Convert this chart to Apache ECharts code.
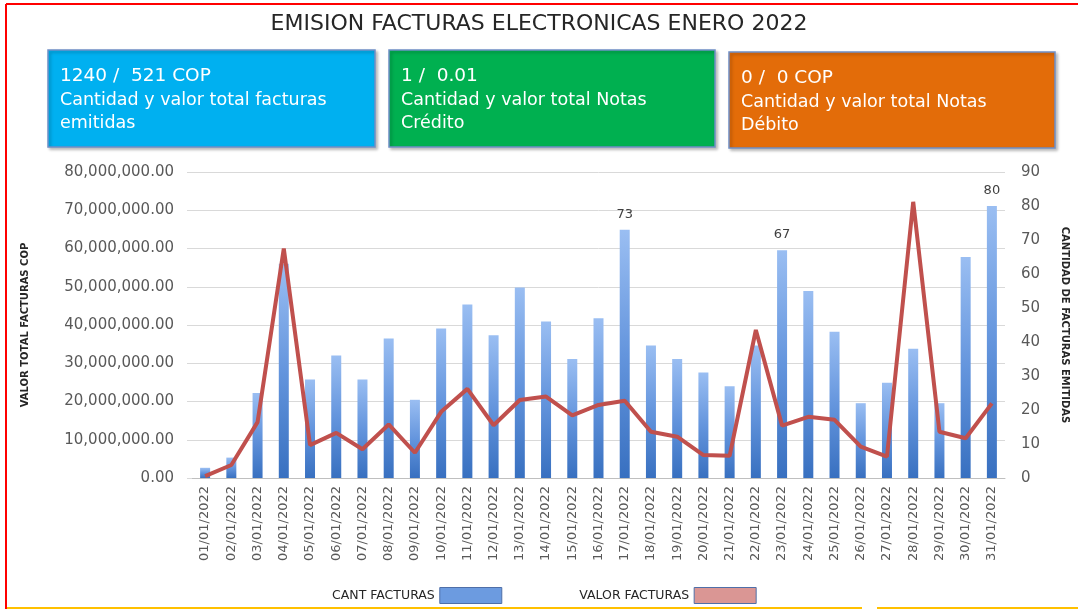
<!DOCTYPE html>
<html>
<head>
<meta charset="utf-8">
<script src="https://cdn.jsdelivr.net/npm/echarts@6/dist/echarts.min.js"></script>
<style>
  html, body { margin: 0; padding: 0; background: #fff; }
  #chart { width: 1078px; height: 609px; }
</style>
</head>
<body>
<div id="chart"></div>
<script>
// fechas del mes
const dias = ['01/01/2022', '02/01/2022', '03/01/2022', '04/01/2022', '05/01/2022', '06/01/2022', '07/01/2022', '08/01/2022',
  '09/01/2022', '10/01/2022', '11/01/2022', '12/01/2022', '13/01/2022', '14/01/2022', '15/01/2022', '16/01/2022',
  '17/01/2022', '18/01/2022', '19/01/2022', '20/01/2022', '21/01/2022', '22/01/2022', '23/01/2022', '24/01/2022',
  '25/01/2022', '26/01/2022', '27/01/2022', '28/01/2022', '29/01/2022', '30/01/2022', '31/01/2022']

// cantidad de facturas (eje derecho)
const cantFacturas = [3, 6, 25, 63, 29, 36, 29, 41, 23, 44, 51, 42, 56, 46, 35, 47,
  73, 39, 35, 31, 27, 39, 67, 55, 43, 22, 28, 38, 22, 65, 80]

// valor facturas COP (eje izquierdo)
const valorFacturas = [500000, 3400000, 14600000, 60000000, 8600000, 11800000, 7500000, 14000000,
  6600000, 17300000, 23300000, 13800000, 20400000, 21300000, 16400000, 19100000,
  20200000, 12100000, 10800000, 6000000, 5800000, 38700000, 13700000, 16000000,
  15200000, 8200000, 5600000, 72200000, 12100000, 10400000, 19500000]

// etiquetas visibles sobre barras
const etiquetasDias = ['17/01/2022', '23/01/2022', '31/01/2022']

// tarjetas de resumen
const tarjetas = [
  { x: 48, y: 50, w: 327, h: 97, color: '#00B0F0', l1: '1240 /  521 COP', l2: 'Cantidad y valor total facturas', l3: 'emitidas' },
  { x: 389, y: 50, w: 326, h: 97, color: '#00B050', l1: '1 /  0.01', l2: 'Cantidad y valor total Notas', l3: 'Crédito' },
  { x: 729, y: 52, w: 326, h: 96, color: '#E36C09', l1: '0 /  0 COP', l2: 'Cantidad y valor total Notas', l3: 'Débito' }
]

const fuente = '"DejaVu Sans"'

let graficos = []
// bordes del recuadro
graficos.push({ type: 'line', shape: { x1: 6, y1: 4, x2: 1078, y2: 4 }, style: { stroke: '#FF0000', lineWidth: 2 } })
graficos.push({ type: 'line', shape: { x1: 6, y1: 4, x2: 6, y2: 609 }, style: { stroke: '#FF0000', lineWidth: 2 } })
graficos.push({ type: 'line', shape: { x1: 7, y1: 608, x2: 862, y2: 608 }, style: { stroke: '#FFC000', lineWidth: 2 } })
graficos.push({ type: 'line', shape: { x1: 877, y1: 608, x2: 1078, y2: 608 }, style: { stroke: '#FFC000', lineWidth: 2 } })

tarjetas.forEach(function (t) {
  graficos.push({
    type: 'rect',
    shape: { x: t.x, y: t.y, width: t.w, height: t.h },
    style: {
      fill: t.color, stroke: '#6F8FC6', lineWidth: 1.5,
      shadowBlur: 3, shadowOffsetX: 2, shadowOffsetY: 2, shadowColor: 'rgba(0,0,0,0.25)'
    }
  })
  graficos.push({
    type: 'text', x: t.x + 12, y: t.y + 26,
    style: { text: t.l1, fill: '#fff', font: '18.5px ' + fuente, textVerticalAlign: 'middle' }
  })
  graficos.push({
    type: 'text', x: t.x + 12, y: t.y + 50,
    style: { text: t.l2, fill: '#fff', font: '17.5px ' + fuente, textVerticalAlign: 'middle' }
  })
  graficos.push({
    type: 'text', x: t.x + 12, y: t.y + 73,
    style: { text: t.l3, fill: '#fff', font: '17.5px ' + fuente, textVerticalAlign: 'middle' }
  })
})

const barras = cantFacturas.map(function (v, i) {
  if (etiquetasDias.indexOf(dias[i]) >= 0) {
    return { value: v, label: { show: true } }
  }
  return v
})

const chart = echarts.init(document.getElementById('chart'))

let options = {
  backgroundColor: '#fff',
  animation: false,
  textStyle: { fontFamily: fuente },
  title: {
    text: 'EMISION FACTURAS ELECTRONICAS ENERO 2022',
    left: 'center',
    top: 8,
    textStyle: { fontFamily: fuente, fontSize: 22, fontWeight: 'normal', color: '#262626' }
  },
  graphic: graficos,
  legend: {
    left: 327,
    top: 582,
    align: 'right',
    itemWidth: 62,
    itemHeight: 16,
    itemGap: 77,
    textStyle: { fontFamily: fuente, fontSize: 12.5, color: '#262626' },
    data: [
      { name: 'CANT FACTURAS', icon: 'rect', itemStyle: { color: '#6C9BE0', borderColor: '#4F6FA8', borderWidth: 1 } },
      { name: 'VALOR FACTURAS', icon: 'rect', itemStyle: { color: '#DA9694', borderColor: '#4F6FA8', borderWidth: 1 } }
    ]
  },
  grid: { left: 192, right: 71, top: 172, bottom: 131 },
  xAxis: {
    type: 'category',
    data: dias,
    axisLine: { lineStyle: { color: '#BFBFBF' } },
    axisTick: { show: false },
    axisLabel: { interval: 0, rotate: 90, margin: 8, fontSize: 13, color: '#595959', fontFamily: fuente }
  },
  yAxis: [
    {
      type: 'value',
      min: 0,
      max: 80000000,
      interval: 10000000,
      name: 'VALOR TOTAL FACTURAS COP',
      nameLocation: 'middle',
      nameRotate: 90,
      nameGap: 162,
      nameTextStyle: { fontSize: 10, fontWeight: 'bold', color: '#262626', fontFamily: fuente },
      axisLine: { show: false },
      axisTick: { show: true, length: 5, lineStyle: { color: '#D9D9D9' } },
      splitLine: { lineStyle: { color: '#D9D9D9' } },
      axisLabel: {
        margin: 18, fontSize: 15, color: '#595959', fontFamily: fuente,
        formatter: function (v) {
          return v.toLocaleString('en-US', { minimumFractionDigits: 2, maximumFractionDigits: 2 })
        }
      }
    },
    {
      type: 'value',
      min: 0,
      max: 90,
      interval: 10,
      position: 'right',
      name: 'CANTIDAD DE FACTURAS EMITIDAS',
      nameLocation: 'middle',
      nameRotate: -90,
      nameGap: 55,
      nameTextStyle: { fontSize: 10, fontWeight: 'bold', color: '#262626', fontFamily: fuente },
      axisLine: { show: false },
      axisTick: { show: false },
      splitLine: { show: false },
      axisLabel: { margin: 16, fontSize: 15, color: '#595959', fontFamily: fuente }
    }
  ],
  series: [
    {
      name: 'CANT FACTURAS',
      type: 'bar',
      yAxisIndex: 1,
      barWidth: 10,
      data: barras,
      itemStyle: {
        color: new echarts.graphic.LinearGradient(0, 0, 0, 1, [
          { offset: 0, color: '#9ABEF2' },
          { offset: 0.5, color: '#6495DD' },
          { offset: 1, color: '#3870C0' }
        ])
      },
      label: { show: false, position: 'top', distance: 9, fontSize: 13, color: '#404040', fontFamily: fuente }
    },
    {
      name: 'VALOR FACTURAS',
      type: 'line',
      yAxisIndex: 0,
      data: valorFacturas,
      symbol: 'none',
      lineStyle: { color: '#C0504D', width: 4 },
      itemStyle: { color: '#C0504D' },
      z: 5
    }
  ]
}

chart.setOption(options)
window.addEventListener('resize', function () {
  chart.resize()
})
</script>
</body>
</html>
